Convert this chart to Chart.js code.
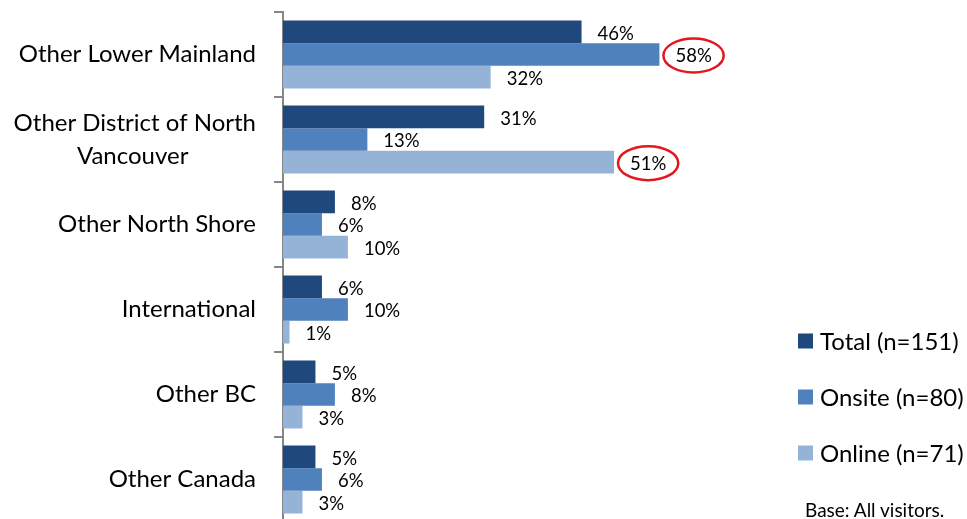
<!DOCTYPE html>
<html>
<head>
<meta charset="utf-8">
<script src="https://cdn.jsdelivr.net/npm/chart.js@4/dist/chart.umd.min.js"></script>
<style>
  html, body { margin: 0; padding: 0; background: #fff; overflow: hidden; }
  #wrap { position: relative; width: 967px; height: 522px; }
  #note { position: absolute; left: 805px; top: 498px; font: 19px Lato, sans-serif; color: #000; white-space: nowrap; }
</style>
</head>
<body>
<div id="wrap">
  <canvas id="chart"></canvas>
  <div id="note">Base: All visitors.</div>
</div>
<script>
const categories = [
    ['Other Lower Mainland'],
    ['Other District of North', 'Vancouver'],
    ['Other North Shore'],
    ['International'],
    ['Other BC'],
    ['Other Canada']
];
const seriesLabels = ['Total (n=151)', 'Onsite (n=80)', 'Online (n=71)'];
const total = [46, 31, 8, 6, 5, 5];
const onsite = [58, 13, 6, 10, 8, 6];
const online = [32, 51, 10, 1, 3, 3];
// circled values: [series index, category index]
const circled = [[1, 0], [2, 1]];

const FONT = 'Lato';
const colors = ['#1F497D', '#4F81BD', '#95B3D7'];

const measureCtx = document.createElement('canvas').getContext('2d');
function centerLines(lines, font) {
    if (lines.length < 2) return lines[0];
    measureCtx.font = font;
    const widest = Math.max(...lines.map(l => measureCtx.measureText(l).width));
    const space = measureCtx.measureText(' ').width;
    return lines.map(l => l + ' '.repeat(Math.round((widest - measureCtx.measureText(l).width) / 2 / space)));
}

const barLabels = {
    id: 'barLabels',
    afterDatasetsDraw(chart) {
        const ctx = chart.ctx;
        ctx.save();
        ctx.font = '18.5px ' + FONT;
        ctx.fillStyle = '#000';
        ctx.textBaseline = 'middle';
        ctx.textAlign = 'left';
        chart.data.datasets.forEach((ds, i) => {
            chart.getDatasetMeta(i).data.forEach((bar, j) => {
                ctx.fillText(ds.data[j] + '%', bar.x + 16, bar.y + 2);
            });
        });
        ctx.strokeStyle = '#E3161E';
        ctx.lineWidth = 2.5;
        circled.forEach(([i, j]) => {
            const bar = chart.getDatasetMeta(i).data[j];
            const w = ctx.measureText(chart.data.datasets[i].data[j] + '%').width;
            ctx.beginPath();
            ctx.ellipse(bar.x + 16 + w / 2, bar.y + 1, w / 2 + 12, 17, 0, 0, Math.PI * 2);
            ctx.stroke();
        });
        ctx.restore();
    }
};

const sideLegend = {
    id: 'sideLegend',
    afterDraw(chart) {
        const ctx = chart.ctx;
        ctx.save();
        ctx.font = '24px ' + FONT;
        ctx.textBaseline = 'middle';
        ctx.textAlign = 'left';
        chart.data.datasets.forEach((ds, i) => {
            const y = 341 + i * 56;
            ctx.fillStyle = ds.backgroundColor;
            ctx.fillRect(798, y - 7.5, 15, 15);
            ctx.fillStyle = '#000';
            ctx.fillText(ds.label, 820, y + 1);
        });
        ctx.restore();
    }
};

new Chart(document.getElementById('chart'), {
    type: 'bar',
    data: {
        labels: categories,
        datasets: [
            { label: seriesLabels[0], data: total, backgroundColor: colors[0] },
            { label: seriesLabels[1], data: onsite, backgroundColor: colors[1] },
            { label: seriesLabels[2], data: online, backgroundColor: colors[2] }
        ]
    },
    options: {
        indexAxis: 'y',
        responsive: true,
        maintainAspectRatio: false,
        animation: false,
        datasets: {
            bar: { categoryPercentage: 0.8, barPercentage: 1.0, borderWidth: 0 }
        },
        layout: { padding: { top: 12, right: 35, bottom: 0, left: 0 } },
        plugins: {
            legend: { display: false },
            tooltip: { enabled: false }
        },
        scales: {
            x: {
                min: 0,
                max: 100,
                display: false
            },
            y: {
                afterFit: (scale) => {
                    scale.width = 283;
                    scale.paddingTop = 0;
                    scale.paddingBottom = 0;
                },
                border: { display: true, color: '#868686', width: 2 },
                grid: {
                    drawOnChartArea: false,
                    drawTicks: true,
                    tickLength: 9,
                    color: '#868686',
                    lineWidth: 2
                },
                ticks: {
                    padding: 18,
                    color: '#000',
                    font: { family: FONT, size: 24, lineHeight: 1.38 },
                    callback: function (value, index) {
                        return centerLines(categories[index], '24px ' + FONT);
                    }
                }
            }
        }
    },
    plugins: [barLabels, sideLegend]
});
</script>
</body>
</html>
